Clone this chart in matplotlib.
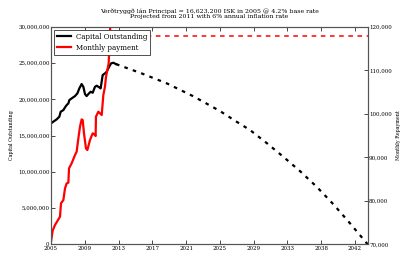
import numpy as np
import matplotlib
matplotlib.use("Agg")
from matplotlib import pyplot as plt
from matplotlib.ticker import FuncFormatter

plt.rcParams['font.family'] = ['DejaVu Serif']

# Capital outstanding (actual), ISK
cap_years = [2005.00, 2005.28, 2005.69, 2006.02, 2006.18, 2006.51, 2006.71, 2006.91,
             2007.12, 2007.24, 2007.52, 2007.93, 2008.22, 2008.46, 2008.74, 2008.95,
             2009.15, 2009.35, 2009.56, 2009.84, 2010.09, 2010.37, 2010.58, 2010.90,
             2011.06, 2011.31, 2011.59, 2011.80, 2012.00, 2012.33, 2012.61, 2012.94]
cap_vals = [16.68, 16.91, 17.23, 17.60, 18.28, 18.51, 18.88, 19.20,
            19.43, 19.89, 20.12, 20.44, 20.81, 21.50, 22.10, 21.72,
            20.72, 20.44, 20.72, 21.04, 20.90, 21.72, 21.87, 21.64,
            21.50, 23.34, 23.57, 23.80, 24.26, 24.95, 25.04, 24.85]

# Capital outstanding (projection)
proj_years = [2012.94, 2016.0, 2019.13, 2022.4, 2025.63, 2027.67, 2029.30, 2031.3,
              2033.36, 2035.4, 2037.44, 2039.5, 2041.51, 2043.67]
proj_vals = [24.85, 23.6, 22.2, 20.4, 18.38, 16.9, 15.76, 14.0,
             12.08, 10.1, 7.94, 5.5, 2.90, 0.0]

# Monthly payment (actual), ISK
pay_years = [2005.00, 2005.20, 2005.49, 2005.90, 2006.10, 2006.22, 2006.51, 2006.71,
             2006.91, 2007.12, 2007.20, 2007.52, 2007.93, 2008.13, 2008.34, 2008.54,
             2008.74, 2008.87, 2009.03, 2009.27, 2009.44, 2009.76, 2010.09, 2010.25,
             2010.45, 2010.49, 2010.78, 2011.19, 2011.39, 2011.59, 2011.72, 2011.88,
             2012.04, 2012.12, 2012.20, 2012.26]
pay_vals = [70613, 73140, 74440, 75740, 76360, 79420, 80180, 82860,
            84010, 84170, 87460, 88610, 90520, 91290, 94350, 97030,
            98710, 98560, 95500, 92050, 91670, 93970, 95500, 95350,
            94890, 99330, 100480, 99710, 104310, 106220, 108520, 110050,
            111580, 115030, 118470, 121500]

# Monthly payment (projection)
pay_proj_years = [2012.26, 2043.67]
pay_proj_vals = [117800, 117800]

xtick_labels = ['2005', '2009', '2013', '2017', '2021', '2025', '2029', '2033', '2038', '2042']

fig = plt.figure(figsize=(4.09, 2.73), dpi=100)
ax1 = fig.add_axes([0.1247, 0.105, 0.7743, 0.797])
ax2 = ax1.twinx()

l1, = ax1.plot(cap_years, np.array(cap_vals) * 1e6, color='black', lw=1.6, label='Capital Outstanding')
ax1.plot(proj_years, np.array(proj_vals) * 1e6, color='black', lw=1.6, ls='--', dashes=(1.6, 2.4))
l2, = ax2.plot(pay_years, pay_vals, color='red', lw=1.6, label='Monthly payment')
ax2.plot(pay_proj_years, pay_proj_vals, color='red', lw=1.1, ls='--', dashes=(3, 3))

ax1.set_xlim(2005, 2043.67)
ax1.set_ylim(0, 30000000)
ax2.set_ylim(70000, 120000)
ax1.set_xticks([2005 + 4.125 * i for i in range(10)])
ax1.set_xticklabels(xtick_labels)
ax1.set_yticks(np.arange(0, 30000001, 5000000))
ax2.set_yticks(np.arange(70000, 120001, 10000))

fmt = FuncFormatter(lambda v, p: '{:,.0f}'.format(v))
ax1.yaxis.set_major_formatter(fmt)
ax2.yaxis.set_major_formatter(fmt)

ax1.tick_params(direction='in', length=3, width=0.5, labelsize=4, pad=1, top=True)
ax2.tick_params(direction='in', length=3, width=0.5, labelsize=4, pad=1)
for ax in (ax1, ax2):
    for s in ax.spines.values():
        s.set_linewidth(0.8)
        s.set_color('#555555')

ax1.set_ylabel('Capital Outstanding', fontsize=3.5, labelpad=3)
ax2.set_ylabel('Monthly Repayment', fontsize=3.5, labelpad=3)
ax1.set_title('Verðtryggð lán Principal = 16,623,200 ISK in 2005 @ 4.2% base rate\n'
              'Projected from 2011 with 6% annual inflation rate', fontsize=4.5, pad=6,
              linespacing=1.0)

leg = ax2.legend([l1, l2], ['Capital Outstanding', 'Monthly payment'], loc='upper left',
                 fontsize=5.0, fancybox=False, framealpha=1, edgecolor='#333333',
                 borderpad=0.45, labelspacing=0.45, handlelength=2.0, handletextpad=0.7,
                 borderaxespad=0.4)
leg.get_frame().set_linewidth(0.6)
leg.set_zorder(10)

plt.savefig('out.png', dpi=100)
